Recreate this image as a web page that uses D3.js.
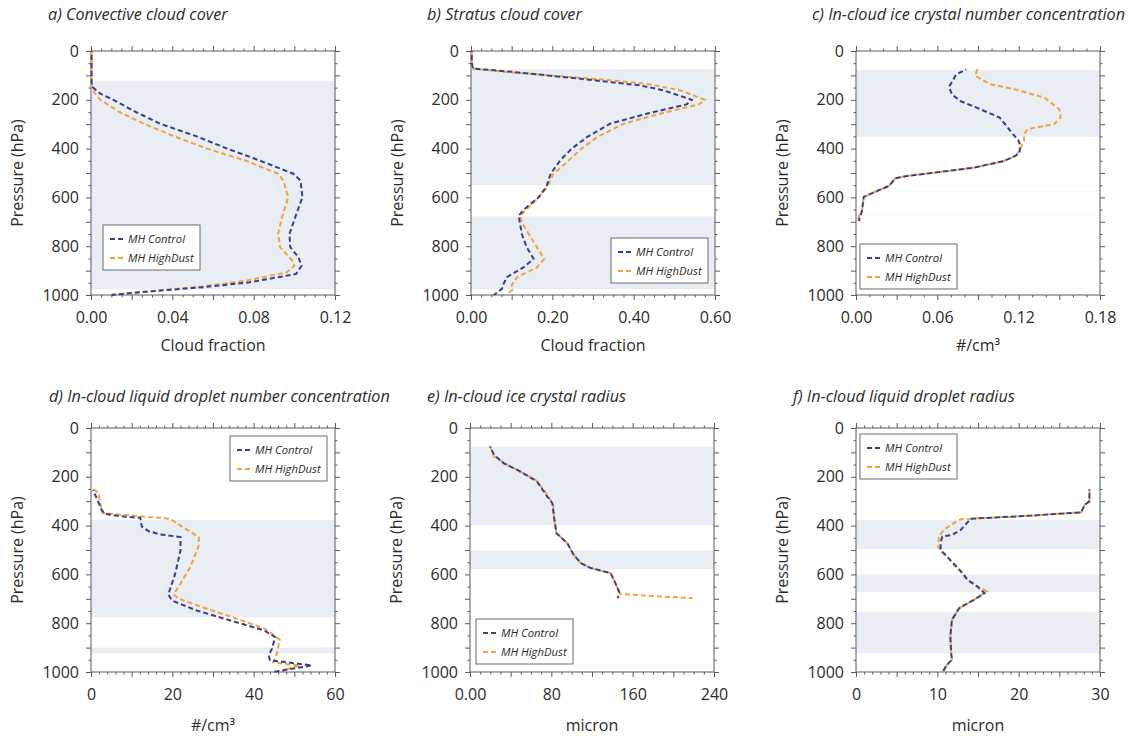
<!DOCTYPE html>
<html lang="en">
<head>
<meta charset="UTF-8">
<title>Cloud profiles</title>
<style>
  body { margin: 0; background: #fff; }
  text { font-family: "Open Sans", "Noto Sans", sans-serif; fill: #2b2b2b; }
</style>
</head>
<body>
<svg id="chart" width="1133" height="740"></svg>
<script src="https://d3js.org/d3.v7.min.js"></script>
<script>
// a) convective cloud cover
var aCtlP = [0, 60, 130, 150, 175, 200, 250, 298, 350, 400, 449, 503, 531, 600, 668, 750, 804, 845, 880, 914, 948, 969, 985, 1000];
var aCtl  = [0.0003, 0.0003, 0.0003, 0.001, 0.0046, 0.011, 0.022, 0.034, 0.052, 0.067, 0.083, 0.0995, 0.103, 0.104, 0.101, 0.0976, 0.098, 0.102, 0.1036, 0.1008, 0.078, 0.054, 0.029, 0.010];
var aDustP = [0, 60, 130, 150, 175, 200, 250, 298, 350, 400, 449, 503, 531, 600, 681, 750, 804, 859, 880, 907, 941, 966, 985, 1000];
var aDust  = [0.0003, 0.0003, 0.0003, 0.0005, 0.002, 0.0046, 0.014, 0.026, 0.041, 0.057, 0.076, 0.092, 0.0946, 0.097, 0.094, 0.092, 0.093, 0.099, 0.100, 0.0963, 0.0766, 0.0537, 0.029, 0.010];
var aBands = [[122, 976]];

// b) stratus cloud cover
var bCtlP = [0, 50, 72, 86, 114, 141, 161, 200, 219, 257, 298, 353, 400, 449, 503, 558, 600, 640, 674, 750, 804, 852, 887, 927, 955, 975, 1000];
var bCtl  = [0.002, 0.002, 0.005, 0.105, 0.27, 0.416, 0.473, 0.543, 0.53, 0.432, 0.342, 0.285, 0.248, 0.219, 0.196, 0.185, 0.166, 0.137, 0.117, 0.125, 0.137, 0.154, 0.129, 0.088, 0.080, 0.076, 0.056];
var bDustP = [0, 50, 72, 86, 114, 134, 161, 200, 219, 257, 298, 353, 400, 449, 503, 558, 600, 640, 674, 702, 750, 804, 852, 887, 927, 960, 978, 995];
var bDust  = [0.002, 0.002, 0.005, 0.088, 0.30, 0.43, 0.514, 0.575, 0.56, 0.465, 0.375, 0.31, 0.272, 0.24, 0.203, 0.187, 0.166, 0.142, 0.121, 0.125, 0.142, 0.162, 0.18, 0.162, 0.113, 0.10, 0.103, 0.088];
var bBands = [[75, 549], [678, 976]];

// c) in-cloud ice crystal number concentration
var cCtlP = [75, 96, 147, 178, 205, 232, 273, 328, 369, 383, 417, 430, 451, 478, 499, 512, 522, 553, 580, 598, 656, 697];
var cCtl  = [0.0814, 0.074, 0.0686, 0.0708, 0.077, 0.089, 0.106, 0.114, 0.12, 0.121, 0.1207, 0.1175, 0.109, 0.087, 0.0573, 0.0376, 0.029, 0.0243, 0.013, 0.0057, 0.0044, 0.002];
var cDustP = [75, 102, 136, 157, 191, 239, 273, 300, 320, 341, 368, 396, 430, 451, 478, 499, 512, 522, 553, 580, 598, 656, 690];
var cDust  = [0.0895, 0.088, 0.099, 0.117, 0.139, 0.15, 0.151, 0.146, 0.1265, 0.124, 0.124, 0.1216, 0.118, 0.109, 0.087, 0.0573, 0.0376, 0.029, 0.0243, 0.013, 0.0057, 0.0044, 0.001];
var cBands = [[78, 351], [576, 578], [675, 677]];

// d) in-cloud liquid droplet number concentration
var dCtlP = [254, 284, 332, 352, 363, 368, 404, 423, 436, 447, 502, 598, 682, 707, 748, 789, 829, 857, 904, 932, 952, 960, 973, 1000];
var dCtl  = [0.5, 1.3, 2.5, 3.3, 8, 12.1, 12.5, 14.2, 17, 22, 22, 20.7, 19, 19.9, 26, 34.3, 42.5, 45.3, 44.5, 43.7, 44, 48, 54.3, 44.8];
var dDustP = [250, 270, 311, 349, 372, 386, 447, 482, 570, 638, 682, 700, 741, 782, 823, 868, 925, 959, 966, 973, 993];
var dDust  = [0.7, 1.9, 2.3, 2.9, 19.5, 20.7, 26.5, 26.5, 24.4, 22, 20.3, 21.6, 28.5, 35.9, 42.8, 46.4, 45.7, 44.8, 47.3, 51.4, 47.3];
var dBands = [[377, 775], [900, 924], [972, 974]];

// e) in-cloud ice crystal radius
var eCtlP = [76, 110, 145, 172, 199, 220, 281, 308, 363, 431, 472, 520, 554, 574, 595, 636, 670, 697];
var eCtl  = [19.7, 23.6, 33.4, 46.6, 58, 66, 76, 81, 82.6, 85, 95.7, 102, 109, 118.7, 138.4, 143, 146.6, 145.6];
var eDustP = [76, 117, 151, 186, 213, 254, 301, 320, 363, 431, 472, 520, 554, 574, 595, 636, 670, 680, 690, 697];
var eDust  = [19.7, 23.6, 36.7, 53, 64.6, 72.8, 80, 82, 82.6, 85, 95.7, 102, 109, 118.7, 138.4, 143, 146.6, 147.5, 184, 218.7];
var eBands = [[77, 399], [503, 578]];

// f) in-cloud liquid droplet radius
var fCtlP = [251, 301, 315, 346, 360, 372, 417, 438, 445, 472, 499, 527, 574, 595, 622, 649, 677, 704, 738, 786, 854, 922, 950, 970, 997];
var fCtl  = [28.7, 28.7, 28.1, 27.7, 21.1, 14.1, 12.9, 11.8, 10.6, 10.4, 10.4, 11.2, 12.5, 13.1, 13.7, 14.9, 15.8, 14.5, 12.7, 11.8, 11.6, 11.7, 11.8, 11.2, 10.7];
var fDustP = [251, 301, 315, 346, 360, 374, 390, 417, 445, 486, 506, 527, 574, 595, 622, 649, 670, 704, 738, 786, 854, 922, 950, 970, 997];
var fDust  = [28.7, 28.7, 28.1, 27.7, 21.1, 12.9, 12.0, 10.8, 10.2, 10.1, 10.4, 11.2, 12.5, 13.1, 13.7, 14.9, 16.1, 14.5, 12.7, 11.8, 11.6, 11.7, 11.8, 11.2, 10.7];
var fBands = [[377, 497], [600, 673], [753, 923], [974, 976]];

var seriesNames = ["MH Control", "MH HighDust"];
var pressureTicks = [0, 200, 400, 600, 800, 1000];

var ctlColor = "#36408a",
    dustColor = "#f2a33c",
    bandColor = "#e9edf4",
    frameColor = "#5a5a5a";

// panel layout (plot area in px)
var panels = [
  {title: "a) Convective cloud cover", xlab: "Cloud fraction", xmax: 0.12, step: 0.04, sub: 4, fmt: d3.format(".2f"),
   cp: aCtlP, cv: aCtl, dp: aDustP, dv: aDust, bands: aBands,
   left: 91, top: 51, tx: 48, ty: 20, leg: [12, 174], xl: 56},
  {title: "b) Stratus cloud cover", xlab: "Cloud fraction", xmax: 0.6, step: 0.2, sub: 4, fmt: d3.format(".2f"),
   cp: bCtlP, cv: bCtl, dp: bDustP, dv: bDust, bands: bBands,
   left: 471, top: 51, tx: 427, ty: 20, leg: [140, 187], xl: 56},
  {title: "c) In-cloud ice crystal number concentration", xlab: "#/cm³", xmax: 0.18, step: 0.06, sub: 3, fmt: d3.format(".2f"),
   cp: cCtlP, cv: cCtl, dp: cDustP, dv: cDust, bands: cBands,
   left: 856, top: 51, tx: 812, ty: 20, leg: [4, 193], xl: 56},
  {title: "d) In-cloud liquid droplet number concentration", xlab: "#/cm³", xmax: 60, step: 20, sub: 5, fmt: d3.format("d"),
   cp: dCtlP, cv: dCtl, dp: dDustP, dv: dDust, bands: dBands,
   left: 91, top: 428, tx: 49, ty: 402, leg: [139, 8], xl: 59},
  {title: "e) In-cloud ice crystal radius", xlab: "micron", xmax: 240, step: 80, sub: 4, fmt: function (d) { return d === 0 ? "0.00" : d; },
   cp: eCtlP, cv: eCtl, dp: eDustP, dv: eDust, bands: eBands,
   left: 470, top: 428, tx: 427, ty: 402, leg: [6, 191], xl: 59},
  {title: "f) In-cloud liquid droplet radius", xlab: "micron", xmax: 30, step: 10, sub: 5, fmt: d3.format("d"),
   cp: fCtlP, cv: fCtl, dp: fDustP, dv: fDust, bands: fBands,
   left: 856, top: 428, tx: 793, ty: 402, leg: [4, 6], xl: 59}
];

var W = 244, H = 244;
var svg = d3.select("#chart");

panels.forEach(drawPanel);

function drawPanel(p) {
  var x = d3.scaleLinear().domain([0, p.xmax]).range([0, W]),
      y = d3.scaleLinear().domain([0, 1000]).range([0, H]);

  svg.append("text")
      .attr("x", p.tx).attr("y", p.ty)
      .attr("font-size", 16.2).attr("font-style", "italic")
      .text(p.title);

  var g = svg.append("g").attr("transform", "translate(" + p.left + "," + p.top + ")");

  g.selectAll(".band").data(p.bands).enter().append("rect")
      .attr("x", 0).attr("width", W)
      .attr("y", function (d) { return y(d[0]); })
      .attr("height", function (d) { return y(d[1]) - y(d[0]); })
      .attr("fill", bandColor);

  // x ticks: labels every step, major every step/2, minor between
  var half = p.step / 2;
  var xMajor = d3.range(0, p.xmax + half / 2, half);
  var xMinor = [];
  xMajor.forEach(function (v, i) {
    if (i < xMajor.length - 1) for (var k = 1; k < p.sub; k++) xMinor.push(v + k * half / p.sub);
  });
  var yMajor = d3.range(0, 1001, 100),
      yMinor = d3.range(50, 1000, 100);

  function isLabel(v, s) { return Math.abs(v / s - Math.round(v / s)) < 1e-6; }

  var xfmt = function (d) { return isLabel(d, p.step) ? p.fmt(+d.toFixed(6)) : ""; };
  var yfmt = function (d) { return pressureTicks.indexOf(d) >= 0 ? d : ""; };

  addAxis(g.append("g").attr("transform", "translate(0," + H + ")"), d3.axisBottom(x), xMajor, xMinor, xfmt, 12);
  addAxis(g.append("g"), d3.axisTop(x), xMajor, xMinor, null, 0);
  addAxis(g.append("g"), d3.axisLeft(y), yMajor, yMinor, yfmt, 7);
  addAxis(g.append("g").attr("transform", "translate(" + W + ",0)"), d3.axisRight(y), yMajor, yMinor, null, 0);

  g.append("rect").attr("width", W).attr("height", H)
      .attr("fill", "none").attr("stroke", frameColor).attr("stroke-width", 1);

  var line = d3.line()
      .x(function (d) { return x(d[1]); })
      .y(function (d) { return y(d[0]); });

  g.append("path").datum(d3.zip(p.dp, p.dv))
      .attr("d", line).attr("fill", "none")
      .attr("stroke", dustColor).attr("stroke-width", 2)
      .attr("stroke-dasharray", "5,3");
  g.append("path").datum(d3.zip(p.cp, p.cv))
      .attr("d", line).attr("fill", "none")
      .attr("stroke", ctlColor).attr("stroke-width", 2)
      .attr("stroke-dasharray", "5,3").attr("stroke-dashoffset", 4);

  svg.append("text")
      .attr("x", p.left + W / 2).attr("y", p.top + H + p.xl)
      .attr("text-anchor", "middle").attr("font-size", 16)
      .text(p.xlab);

  svg.append("text")
      .attr("transform", "translate(" + (p.left - 68) + "," + (p.top + H / 2) + ") rotate(-90)")
      .attr("text-anchor", "middle").attr("font-size", 16)
      .text("Pressure (hPa)");

  // legend
  var lg = g.append("g").attr("transform", "translate(" + p.leg[0] + "," + p.leg[1] + ")");
  lg.append("rect").attr("width", 97).attr("height", 45)
      .attr("fill", "#fff").attr("stroke", "#6a6a6a").attr("stroke-width", 1);
  [ctlColor, dustColor].forEach(function (c, i) {
    var yy = 14 + i * 19;
    lg.append("line").attr("x1", 7).attr("x2", 20).attr("y1", yy).attr("y2", yy)
        .attr("stroke", c).attr("stroke-width", 2).attr("stroke-dasharray", "5,3");
    lg.append("text").attr("x", 25).attr("y", yy + 4)
        .attr("font-size", 11.3).attr("font-style", "italic")
        .text(seriesNames[i]);
  });
}

function addAxis(sel, axis, major, minor, fmt, pad) {
  sel.call(axis.tickValues(major).tickSize(5).tickPadding(pad).tickFormat(fmt || ""));
  sel.selectAll("text").attr("font-size", 16).attr("fill", "#2b2b2b")
      .attr("font-family", "'Open Sans', 'Noto Sans', sans-serif");
  sel.select(".domain").remove();
  sel.selectAll("line").attr("stroke", frameColor);
  var m = sel.append("g");
  m.call(axis.tickValues(minor).tickSize(2.5).tickFormat(""));
  m.select(".domain").remove();
  m.selectAll("line").attr("stroke", frameColor);
}
</script>
</body>
</html>
